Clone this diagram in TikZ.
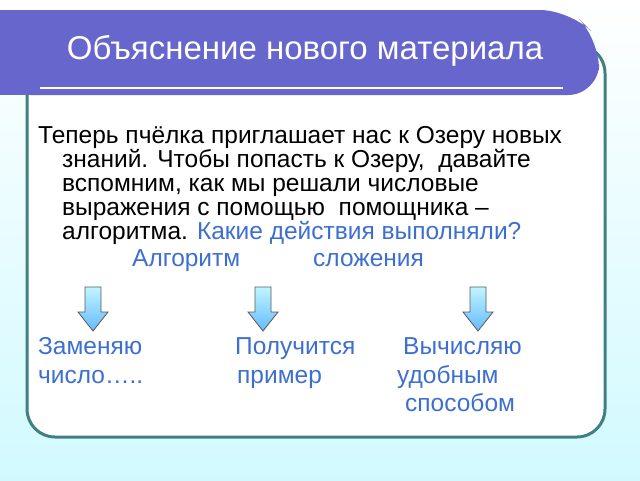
\documentclass[tikz,border=0pt]{standalone}
\usepackage{fontspec}
\setmainfont{Liberation Sans}
\definecolor{ban}{HTML}{6666CC}
\definecolor{tb}{HTML}{3D6FD0}
\begin{document}
\begin{tikzpicture}[x=1pt,y=-1pt,
  txt/.style={anchor=base west,inner sep=0pt,font=\fontsize{24.5}{28}\selectfont},
  bl/.style={txt,text=tb},
  darr/.style={draw=gray!70!black,line width=0.8pt,top color=blue!15!cyan!25,bottom color=blue!45!cyan!60}]
\useasboundingbox (0,0) rectangle (640,480);
\shade[top color=white,bottom color=blue!12!cyan!18] (0,0) rectangle (640,480);
\draw[draw=teal!50!gray,line width=3pt,fill=white,rounded corners=28pt] (27,45) rectangle (605,437);
\fill[ban,rounded corners=30pt] (0,10) -- (570,10) -- (600,40) -- (598,95) -- (0,95) -- cycle;
\fill[ban] (0,10) rectangle (40,95);
\draw[white,line width=2pt] (40,88) -- (563,88);
\node[anchor=base,inner sep=0pt,text=white,font=\fontsize{33}{36}\selectfont] (title) at (305,59) {Объяснение нового материала};
\node[txt] (l1) at (38,143) {Теперь пчёлка приглашает нас к Озеру новых};
\node[txt] (l2) at (62,167) {знаний. Чтобы попасть к Озеру,\ \ давайте};
\node[txt] (l3) at (62,191) {вспомним, как мы решали числовые};
\node[txt] (l4) at (62,215) {выражения с помощью\ \ помощника –};
\node[txt] (l5) at (62,239) {алгоритма. \textcolor{tb}{Какие действия выполняли?}};
\node[bl] (alg) at (132,266) {Алгоритм};
\node[bl] (sl) at (313,266) {сложения};
\foreach \x/\n in {93/a1,263/a2,478/a3}{
  \draw[darr] (\x-8,287) -- (\x+8,287) -- (\x+8,312) -- (\x+15,312) -- (\x,331) -- (\x-15,312) -- (\x-8,312) -- cycle;
}
\node[bl] (b1) at (38,354) {Заменяю};
\node[bl] (b2) at (38,383) {число…..};
\node[bl] (b3) at (235,354) {Получится};
\node[bl] (b4) at (237,383) {пример};
\node[bl] (b5) at (403,354) {Вычисляю};
\node[bl] (b6) at (397,383) {удобным};
\node[bl] (b7) at (405,411) {способом};
\end{tikzpicture}
\end{document}
